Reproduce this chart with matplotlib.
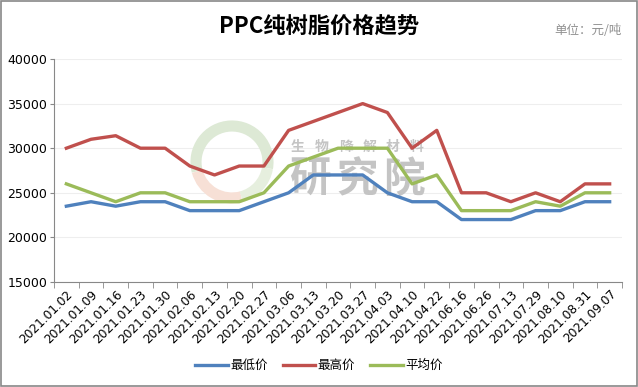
import matplotlib.pyplot as plt
from matplotlib.patches import Arc, Rectangle

plt.rcParams['font.family'] = ['DejaVu Sans', 'Noto Sans CJK SC']

# data (元/吨)
dates = ['2021.01.02', '2021.01.09', '2021.01.16', '2021.01.23', '2021.01.30',
         '2021.02.06', '2021.02.13', '2021.02.20', '2021.02.27', '2021.03.06',
         '2021.03.13', '2021.03.20', '2021.03.27', '2021.04.03', '2021.04.10',
         '2021.04.22', '2021.06.16', '2021.06.26', '2021.07.13', '2021.07.29',
         '2021.08.10', '2021.08.31', '2021.09.07']
price_min = [23500, 24000, 23500, 24000, 24000, 23000, 23000, 23000, 24000, 25000,
             27000, 27000, 27000, 25000, 24000, 24000, 22000, 22000, 22000, 23000,
             23000, 24000, 24000]
price_max = [30000, 31000, 31400, 30000, 30000, 28000, 27000, 28000, 28000, 32000,
             33000, 34000, 35000, 34000, 30000, 32000, 25000, 25000, 24000, 25000,
             24000, 26000, 26000]
price_avg = [26000, 25000, 24000, 25000, 25000, 24000, 24000, 24000, 25000, 28000,
             29000, 30000, 30000, 30000, 26000, 27000, 23000, 23000, 23000, 24000,
             23500, 25000, 25000]

cjk = ['Noto Sans CJK SC', 'DejaVu Sans']

fig = plt.figure(figsize=(6.38, 3.87), dpi=100)
ax = fig.add_axes([54 / 638, 105 / 387, 568 / 638, 223 / 387])

# outer border of the picture
fig.patches.append(Rectangle((0.001, 0.002), 0.997, 0.995, transform=fig.transFigure,
                             fill=False, edgecolor='#888888', linewidth=1.2))

x = list(range(len(dates)))
ax.plot(x, price_min, color='#4F81BD', lw=2.4, label='最低价', zorder=3)
ax.plot(x, price_max, color='#C0504D', lw=2.4, label='最高价', zorder=3)
ax.plot(x, price_avg, color='#9BBB59', lw=2.4, label='平均价', zorder=3)

ax.set_xlim(-0.5, len(dates) - 0.5)
ax.set_ylim(15000, 40000)
ax.set_yticks(range(15000, 40001, 5000))
ax.tick_params(axis='y', labelsize=9, length=3, color='#888888', pad=2)
ax.set_xticks(x)
ax.set_xticklabels(dates, rotation=45, ha='right', rotation_mode='anchor', fontsize=8.7)
ax.tick_params(axis='x', length=0, pad=4)
ax.set_xticks([i - 0.5 for i in range(len(dates) + 1)], minor=True)
ax.tick_params(axis='x', which='minor', length=4, color='#888888')

ax.grid(axis='y', color='#eeeeee', linewidth=0.8)
ax.set_axisbelow(True)
for side in ['top', 'right']:
    ax.spines[side].set_visible(False)
for side in ['left', 'bottom']:
    ax.spines[side].set_color('#888888')

# faint watermark logo (drawn in inches so it stays round), under the lines
for t1, t2, col in [(-10, 195, '#dde9d5'), (195, 285, '#f7e0d6'), (285, 350, '#e6efde')]:
    ax.add_patch(Arc((2.32, 2.25), 0.72, 0.72, theta1=t1, theta2=t2,
                     transform=fig.dpi_scale_trans, edgecolor=col,
                     linewidth=8, zorder=1, clip_on=False))
for i, ch in enumerate('生物降解材料'):
    ax.text((298 + i * 23.8) / 638, 1 - 147 / 387, ch, transform=fig.transFigure,
            family=cjk, fontsize=10, color='#c4c4c4', fontweight='bold',
            ha='center', va='center', zorder=2)
for i, ch in enumerate('研究院'):
    ax.text((310 + i * 47) / 638, 1 - 180 / 387, ch, transform=fig.transFigure,
            family=cjk, fontsize=30, color='#c4c4c4', fontweight='bold',
            ha='center', va='center', zorder=2)

fig.text(0.5, 0.93, 'PPC纯树脂价格趋势', family=cjk, fontsize=16, fontweight='bold',
         ha='center', va='center')
fig.text(0.975, 0.92, '单位：元/吨', family=cjk, fontsize=9, color='#909090',
         ha='right', va='center')

leg = fig.legend(loc='center', bbox_to_anchor=(0.5, 0.055), ncol=3, frameon=False,
                 prop={'family': cjk, 'size': 9}, handlelength=2.6, columnspacing=1.2,
                 handletextpad=0.2)

fig.savefig('out.png', dpi=100)
